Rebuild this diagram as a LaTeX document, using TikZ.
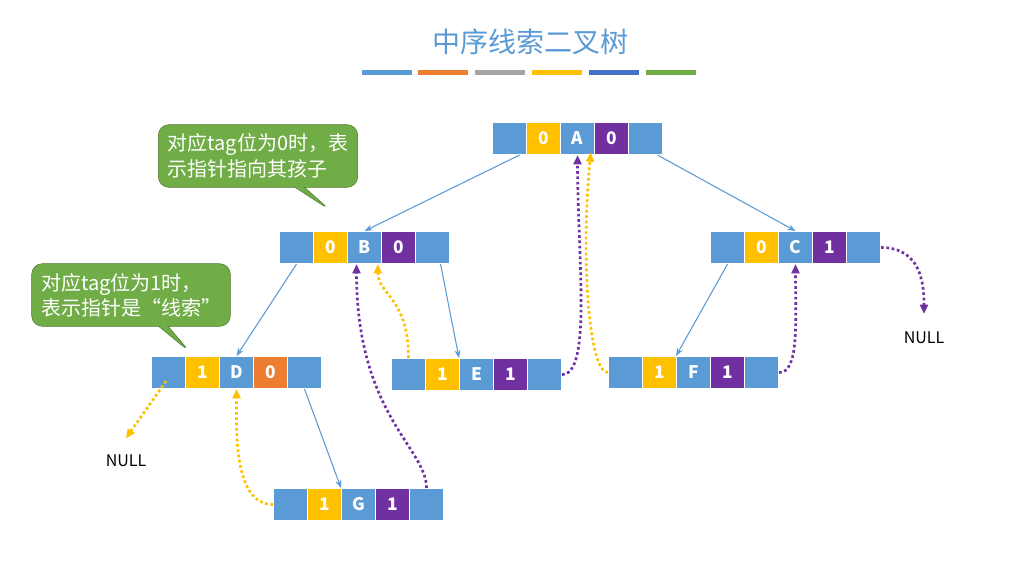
\documentclass[tikz,border=0pt]{standalone}
\usepackage{fontspec}
\setmainfont{Noto Sans CJK SC}
\usetikzlibrary{arrows.meta,shapes.callouts}
\definecolor{cb}{HTML}{5B9BD5}
\definecolor{cy}{HTML}{FFC000}
\definecolor{cp}{HTML}{7030A0}
\definecolor{co}{HTML}{ED7D31}
\definecolor{cg}{HTML}{70AD47}
\definecolor{cgr}{HTML}{A5A5A5}
\definecolor{cdb}{HTML}{4472C4}
\tikzset{cell/.style={draw=white,line width=0.8pt,minimum width=25.5pt,minimum height=24pt,inner sep=0pt,text=white,font=\bfseries\fontsize{13}{13}\selectfont,anchor=north west},
edge/.style={cb,line width=0.8pt,-{Stealth[length=6pt]}},
thy/.style={cy,line width=2pt,dotted,-{Triangle[length=7pt,width=6pt]}},
thp/.style={cp,line width=2pt,dotted,-{Triangle[length=7pt,width=6pt]}},
nul/.style={font=\fontsize{12}{12}\selectfont},
callout/.style={rectangle callout,rounded corners=8pt,fill=cg,draw=cg!70!black,text=white,align=left,font=\fontsize{15}{19}\selectfont,inner sep=7pt}}
\newcommand{\rec}[8]{%
\node[cell,fill=cb] (#1-1) at (#2,#3) {};
\node[cell,fill=#7] (#1-2) at (#2+34,#3) {#4};
\node[cell,fill=cb] (#1-3) at (#2+68,#3) {#5};
\node[cell,fill=#8] (#1-4) at (#2+102,#3) {#6};
\node[cell,fill=cb] (#1-5) at (#2+136,#3) {};}
\begin{document}
\begin{tikzpicture}[x=0.75pt,y=-0.75pt]
\useasboundingbox[fill=white] (0,0) rectangle (1024,568);
\node[text=cb,font=\fontsize{21}{21}\selectfont] (title) at (530,42) {中序线索二叉树};
\foreach \x/\c in {362/cb,418/co,475/cgr,532/cy,589/cdb,646/cg}
  \fill[\c] (\x,70) rectangle +(50,5);
\rec{A}{492}{122}{0}{A}{0}{cy}{cp}
\rec{B}{279}{231}{0}{B}{0}{cy}{cp}
\rec{C}{710}{231}{0}{C}{1}{cy}{cp}
\rec{D}{151}{356}{1}{D}{0}{cy}{co}
\rec{E}{391}{358}{1}{E}{1}{cy}{cp}
\rec{F}{608}{356}{1}{F}{1}{cy}{cp}
\rec{G}{273}{488}{1}{G}{1}{cy}{cp}
\draw[edge] (A-1.south) ++(10,0) -- (B-3.north);
\draw[edge] (A-5.south) ++(12,0) -- (C-3.north);
\draw[edge] (B-1.south) -- (D-3.north);
\draw[edge] (B-5.south) ++(8,0) -- (E-3.north west);
\draw[edge] (C-1.south) -- (F-3.north west);
\draw[edge] (D-5.south) -- (G-3.north west);
\node[nul] (n1) at (126,461) {NULL};
\node[nul] (n2) at (924,338) {NULL};
\draw[thy] (D-1.south east) ++(-20,-8) -- ([yshift=9pt]n1.north);
\draw[thy] (G-1.west) .. controls ++(-40,0) and ++(0,40) .. (D-3.south);
\draw[thp] (G-5.north) .. controls ++(0,-40) and ++(0,150) .. ([xshift=-6pt]B-3.south);
\draw[thy] (E-1.north) .. controls ++(0,-60) and ++(0,30) .. ([xshift=10pt]B-3.south);
\draw[thp] (E-5.east) .. controls ++(30,0) and ++(0,100) .. (A-3.south);
\draw[thy] (F-1.west) .. controls ++(-20,0) and ++(-10,100) .. ([xshift=10pt,yshift=2pt]A-3.south);
\draw[thp] (F-5.east) .. controls ++(20,0) and ++(0,60) .. (C-3.south);
\draw[thp] (C-5.east) .. controls ++(40,0) and ++(0,-30) .. ([yshift=10pt]n2.north);
\node[callout,callout absolute pointer={(330,210)}] (cA) at (258,156) {对应tag位为0时，表\\示指针指向其孩子};
\node[callout,callout absolute pointer={(190,352)}] (cB) at (131,295) {对应tag位为1时，\\表示指针是“线索”};
\end{tikzpicture}
\end{document}
